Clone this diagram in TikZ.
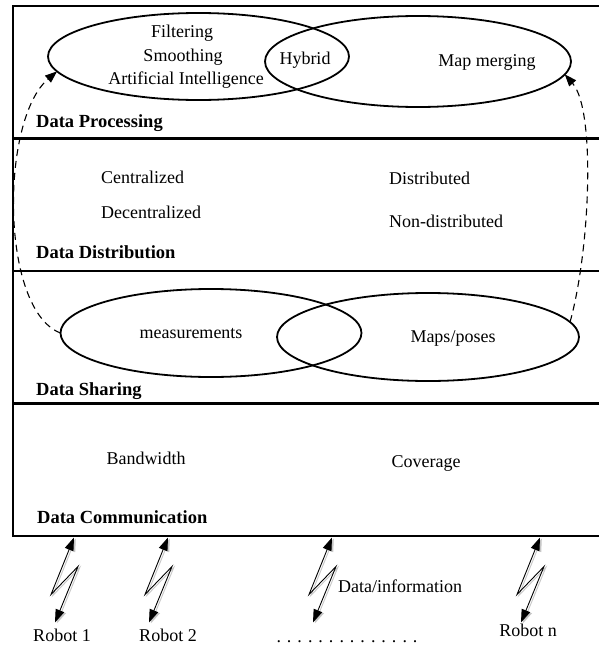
\documentclass[tikz,border=0pt]{standalone}
\usepackage{fontspec}
\setmainfont{Liberation Serif}
\usetikzlibrary{shapes.geometric,arrows.meta}
\begin{document}
\begin{tikzpicture}[x=1pt,y=-1pt,
  ell/.style={draw, ellipse, line width=1.8pt, inner sep=0pt, outer sep=0pt},
  txt/.style={inner sep=0pt, text height=12.6pt, text depth=3.9pt, font=\fontsize{18}{22}\selectfont},
  lay/.style={inner sep=0pt, anchor=west, text height=12.6pt, text depth=3.9pt, font=\fontsize{18.5}{22}\selectfont\bfseries},
  frame/.style={line width=2.2pt},
  bolt/.style={line width=0.9pt, line join=miter, {Triangle[length=13pt,width=9pt]}-{Triangle[length=13pt,width=9pt]}},
  boltshadow/.style={bolt, draw=black!22},
  flow/.style={line width=1.1pt, dash pattern=on 7pt off 5pt, -{Triangle[length=12pt,width=9pt]}}
]
\useasboundingbox (0,0) rectangle (598,645);

% layer frame
\draw[frame] (13,6) rectangle (606,536);
\draw[frame] (13,138.5) -- (606,138.5);
\draw[frame] (13,271) -- (606,271);
\draw[frame] (13,403.5) -- (606,403.5);

% Data Processing
\node[ell, minimum width=301pt, minimum height=87pt] (pL) at (198.5,56.5) {};
\node[ell, minimum width=306pt, minimum height=91pt] (pR) at (418,61.5) {};
\node[txt] (filt) at (182,33) {Filtering};
\node[txt] (smoo) at (183,57) {Smoothing};
\node[txt] (ai) at (186,80) {Artificial Intelligence};
\node[txt] (hyb) at (305,60) {Hybrid};
\node[txt] (mm) at (487,62) {Map merging};
\node[lay] (lP) at (36,123) {Data Processing};

% Data Distribution
\node[txt, anchor=west] (cen) at (101,179) {Centralized};
\node[txt, anchor=west] (dec) at (101,214) {Decentralized};
\node[txt, anchor=west] (dis) at (389,180) {Distributed};
\node[txt, anchor=west] (ndis) at (389,223) {Non-distributed};
\node[lay] (lD) at (36,254) {Data Distribution};

% Data Sharing
\node[ell, minimum width=301pt, minimum height=88pt] (sL) at (211,333) {};
\node[ell, minimum width=302pt, minimum height=88pt] (sR) at (428,337) {};
\node[txt] (meas) at (191,334) {measurements};
\node[txt] (maps) at (453,338) {Maps/poses};
\node[lay] (lS) at (36,391) {Data Sharing};

% Data Communication
\node[txt] (bw) at (146,460) {Bandwidth};
\node[txt] (cov) at (426,463) {Coverage};
\node[lay] (lC) at (37,519) {Data Communication};

% dashed flows
\draw[flow] (sL.west) .. controls (0,310) and (0,120) .. (pL.186);
\draw[flow] (sR.6) .. controls (590,250) and (596,110) .. (pR.355);

% robots
\node[txt] (rob1) at (62,637) {Robot 1};
\node[txt] (rob2) at (168,637) {Robot 2};
\node[txt] (dots) at (347,638) {. . . . . . . . . . . . . .};
\node[txt] (robn) at (528,632) {Robot n};
\node[txt, anchor=west] (info) at (338,588) {Data/information};

\coordinate (a1) at (74,537.5);
\coordinate (a2) at (168,537.5);
\coordinate (a3) at (332,537.5);
\coordinate (a4) at (540,537.5);
\foreach \a in {a1,a2,a3,a4}{
  \draw[boltshadow] ([shift={(1.8,1)}]\a) -- ++(-23,57) -- ++(27,-28) -- ++(-23,56);
  \draw[bolt] (\a) -- ++(-23,57) -- ++(27,-28) -- ++(-23,56);
}
\end{tikzpicture}
\end{document}
